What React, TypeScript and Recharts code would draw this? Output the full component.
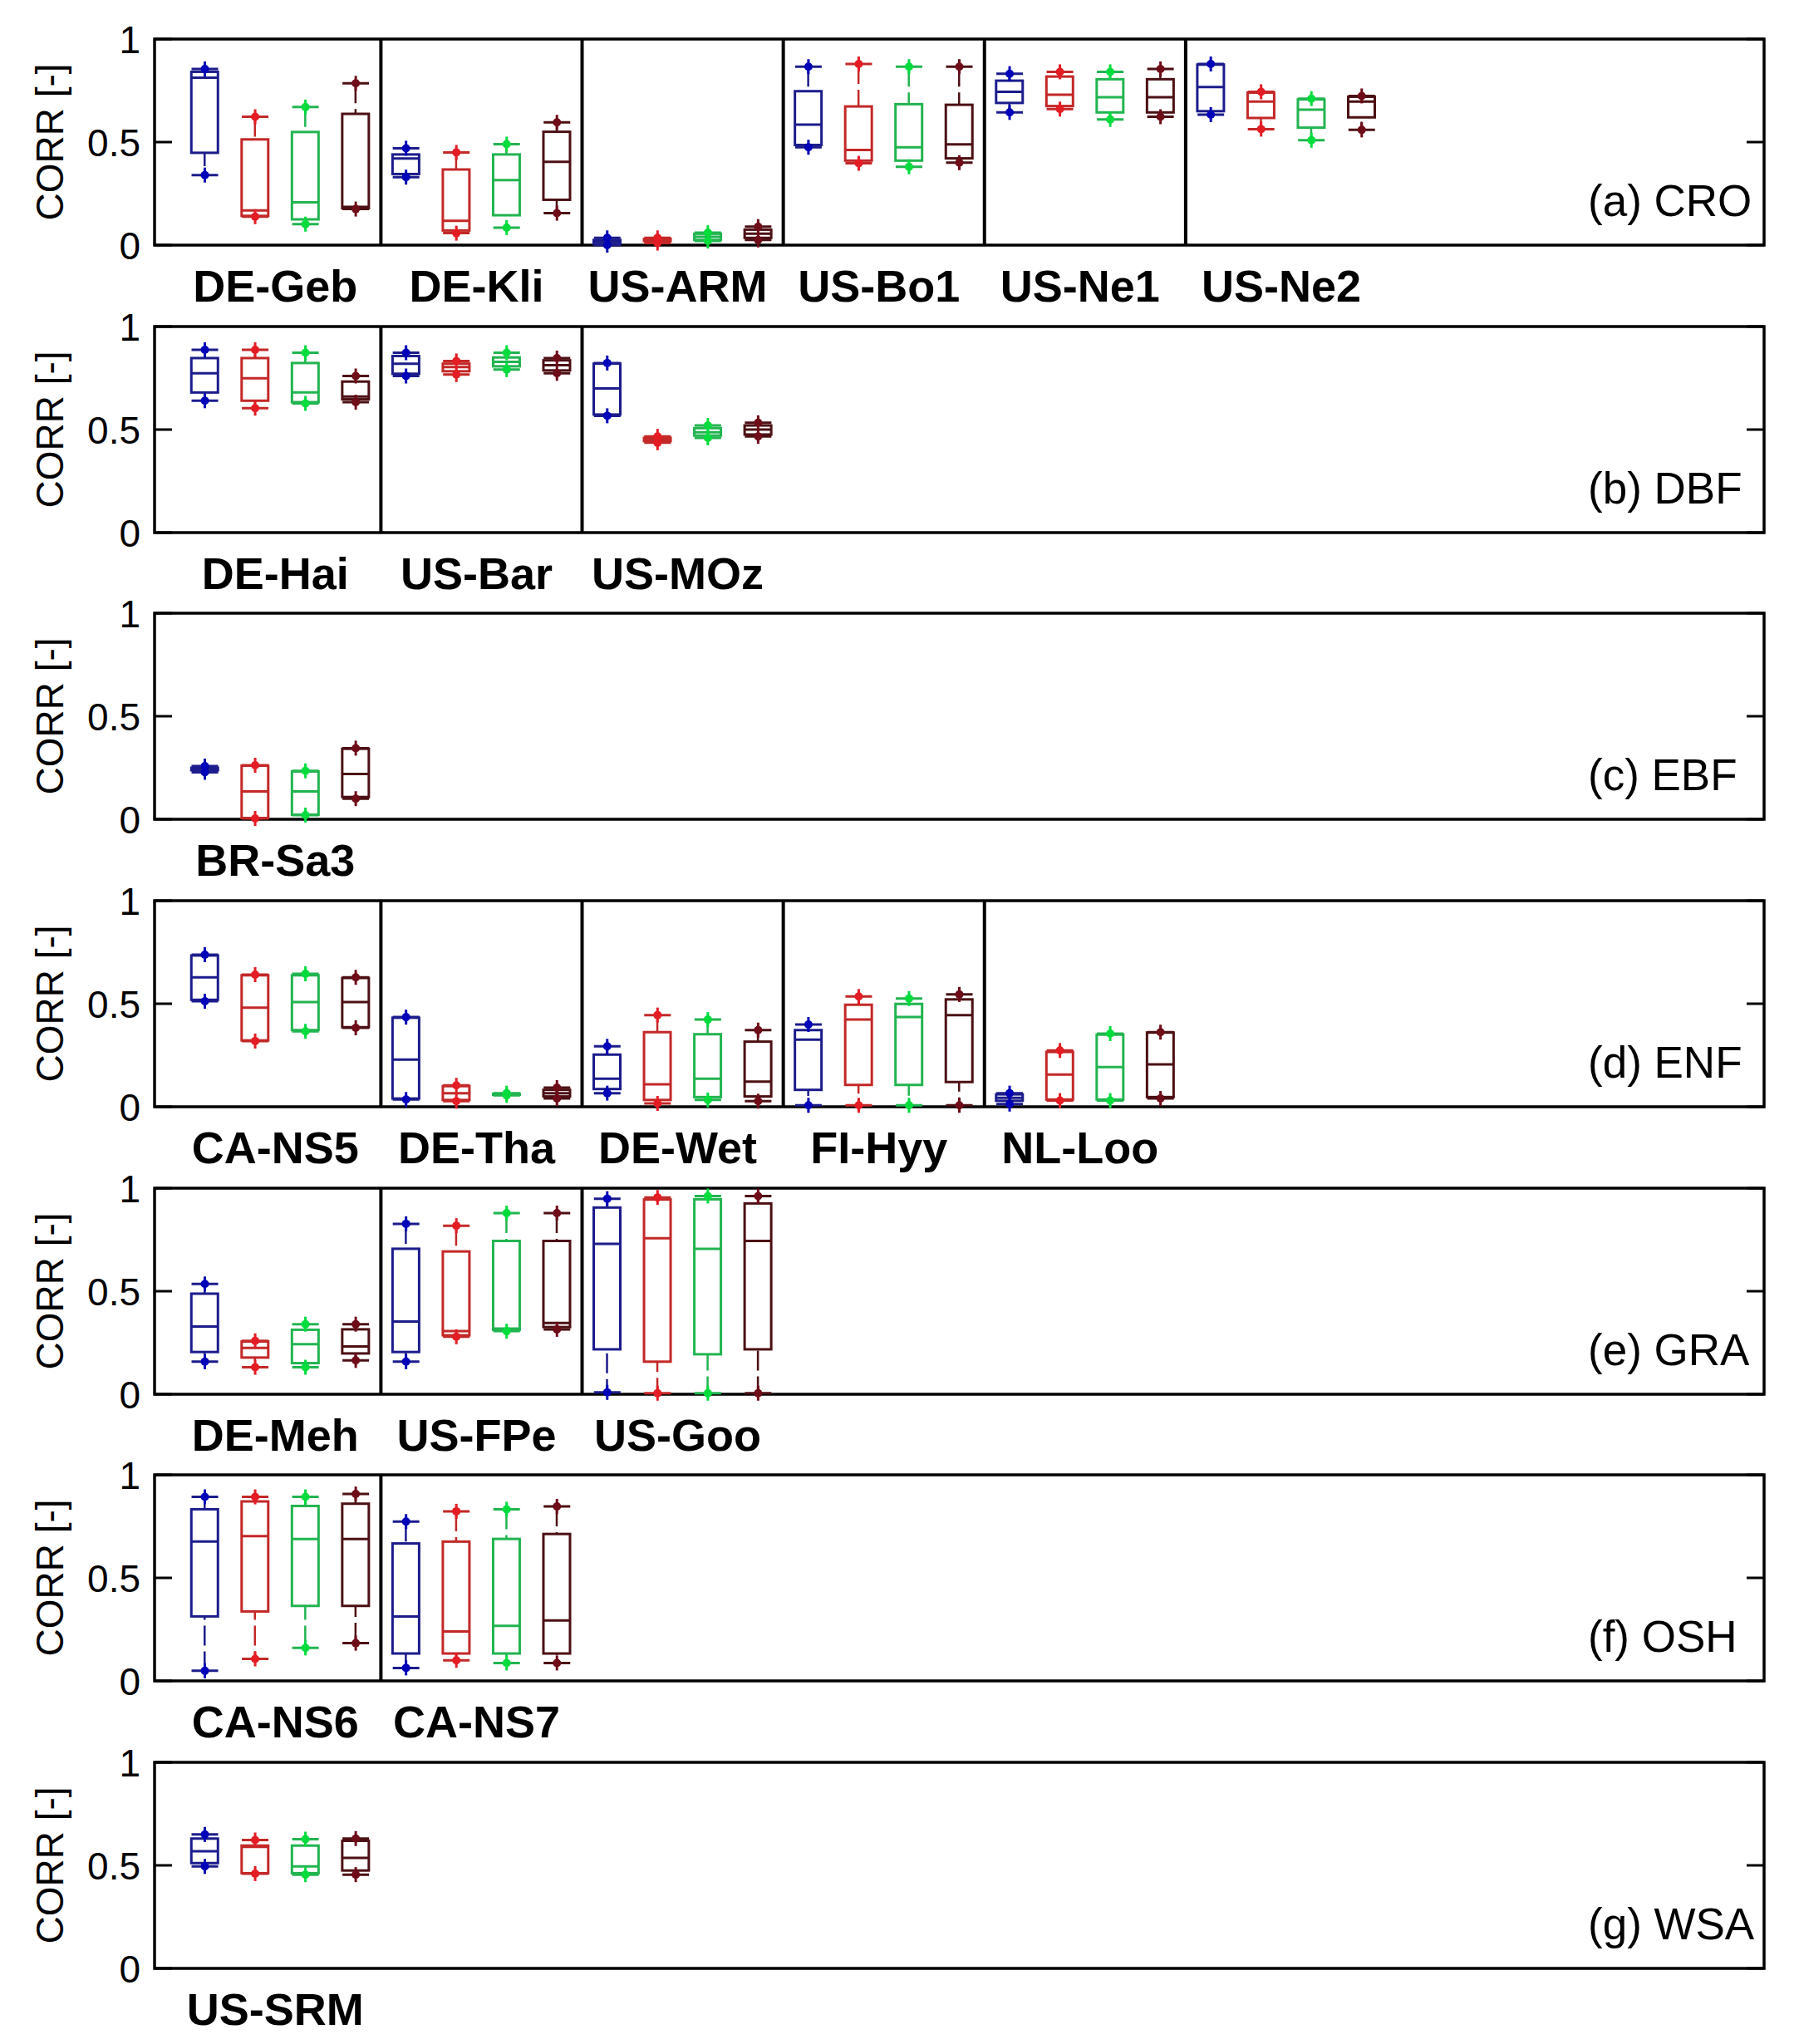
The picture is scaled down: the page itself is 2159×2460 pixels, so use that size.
import React from 'react';
import {
  Bar,
  ComposedChart,
  ReferenceArea,
  ReferenceLine,
  Scatter,
  XAxis,
  YAxis,
} from 'recharts';

// each box: [min, q1, median, q3, max], four series per site (blue, red, green, maroon)
const CRO_SITES = ['DE-Geb', 'DE-Kli', 'US-ARM', 'US-Bo1', 'US-Ne1', 'US-Ne2'];
const CRO_STATS = [
  [[0.34, 0.448, 0.812, 0.841, 0.855], [0.138, 0.142, 0.168, 0.513, 0.623], [0.102, 0.125, 0.208, 0.549, 0.67], [0.175, 0.179, 0.185, 0.637, 0.785]],
  [[0.33, 0.345, 0.42, 0.44, 0.47], [0.058, 0.071, 0.118, 0.367, 0.45], [0.085, 0.145, 0.316, 0.44, 0.49], [0.155, 0.22, 0.404, 0.55, 0.596]],
  [[0.0, 0.005, 0.015, 0.025, 0.035], [0.01, 0.02, 0.025, 0.03, 0.035], [0.02, 0.025, 0.04, 0.055, 0.06], [0.025, 0.035, 0.055, 0.075, 0.09]],
  [[0.475, 0.486, 0.585, 0.747, 0.866], [0.397, 0.41, 0.462, 0.673, 0.879], [0.38, 0.41, 0.475, 0.684, 0.866], [0.4, 0.421, 0.489, 0.681, 0.866]],
  [[0.644, 0.69, 0.744, 0.798, 0.832], [0.66, 0.675, 0.73, 0.818, 0.841], [0.61, 0.644, 0.718, 0.805, 0.841], [0.623, 0.644, 0.718, 0.805, 0.855]],
  [[0.633, 0.65, 0.767, 0.876, 0.879], [0.563, 0.617, 0.697, 0.74, 0.744], [0.509, 0.57, 0.657, 0.707, 0.711], [0.559, 0.62, 0.697, 0.72, 0.724]],
];

const DBF_SITES = ['DE-Hai', 'US-Bar', 'US-MOz'];
const DBF_STATS = [
  [[0.64, 0.68, 0.773, 0.847, 0.887], [0.604, 0.64, 0.749, 0.847, 0.887], [0.627, 0.633, 0.68, 0.823, 0.873], [0.633, 0.647, 0.66, 0.733, 0.76]],
  [[0.76, 0.771, 0.82, 0.857, 0.873], [0.767, 0.783, 0.803, 0.82, 0.833], [0.791, 0.807, 0.829, 0.85, 0.873], [0.773, 0.787, 0.813, 0.836, 0.847]],
  [[0.567, 0.573, 0.7, 0.82, 0.823], [0.436, 0.444, 0.451, 0.46, 0.467], [0.46, 0.471, 0.487, 0.507, 0.52], [0.467, 0.476, 0.5, 0.52, 0.533]],
];

const EBF_SITES = ['BR-Sa3'];
const EBF_STATS = [
  [[0.228, 0.238, 0.243, 0.25, 0.258], [0.004, 0.006, 0.135, 0.26, 0.262], [0.02, 0.022, 0.135, 0.232, 0.235], [0.1, 0.108, 0.22, 0.342, 0.345]],
];

const ENF_SITES = ['CA-NS5', 'DE-Tha', 'DE-Wet', 'FI-Hyy', 'NL-Loo'];
const ENF_STATS = [
  [[0.512, 0.519, 0.628, 0.734, 0.738], [0.319, 0.322, 0.481, 0.638, 0.641], [0.366, 0.372, 0.508, 0.638, 0.645], [0.383, 0.386, 0.508, 0.625, 0.628]],
  [[0.035, 0.04, 0.229, 0.432, 0.435], [0.027, 0.033, 0.066, 0.1, 0.104], [0.055, 0.058, 0.06, 0.063, 0.066], [0.04, 0.05, 0.066, 0.082, 0.093]],
  [[0.066, 0.086, 0.136, 0.253, 0.293], [0.016, 0.033, 0.109, 0.362, 0.445], [0.033, 0.047, 0.136, 0.352, 0.423], [0.027, 0.05, 0.122, 0.316, 0.372]],
  [[0.007, 0.082, 0.326, 0.372, 0.399], [0.007, 0.106, 0.423, 0.495, 0.535], [0.007, 0.106, 0.435, 0.499, 0.525], [0.007, 0.12, 0.445, 0.521, 0.545]],
  [[0.013, 0.029, 0.043, 0.06, 0.066], [0.03, 0.035, 0.156, 0.266, 0.273], [0.03, 0.035, 0.193, 0.35, 0.355], [0.04, 0.047, 0.206, 0.36, 0.362]],
];

const GRA_SITES = ['DE-Meh', 'US-FPe', 'US-Goo'];
const GRA_STATS = [
  [[0.158, 0.205, 0.329, 0.488, 0.535], [0.131, 0.178, 0.225, 0.256, 0.259], [0.131, 0.151, 0.243, 0.313, 0.34], [0.164, 0.198, 0.232, 0.315, 0.34]],
  [[0.158, 0.205, 0.353, 0.706, 0.827], [0.279, 0.286, 0.306, 0.693, 0.818], [0.306, 0.313, 0.319, 0.744, 0.879], [0.315, 0.326, 0.346, 0.744, 0.879]],
  [[0.009, 0.218, 0.73, 0.906, 0.949], [0.005, 0.158, 0.757, 0.945, 0.955], [0.005, 0.194, 0.706, 0.946, 0.962], [0.005, 0.218, 0.744, 0.926, 0.962]],
];

const OSH_SITES = ['CA-NS6', 'CA-NS7'];
const OSH_STATS = [
  [[0.049, 0.313, 0.676, 0.833, 0.893], [0.107, 0.337, 0.703, 0.871, 0.893], [0.16, 0.364, 0.689, 0.849, 0.893], [0.183, 0.364, 0.689, 0.86, 0.907]],
  [[0.063, 0.133, 0.313, 0.667, 0.773], [0.1, 0.133, 0.24, 0.676, 0.823], [0.087, 0.133, 0.267, 0.689, 0.833], [0.087, 0.133, 0.293, 0.713, 0.847]],
];

const WSA_SITES = ['US-SRM'];
const WSA_STATS = [
  [[0.495, 0.511, 0.569, 0.63, 0.65], [0.46, 0.462, 0.59, 0.596, 0.623], [0.455, 0.462, 0.495, 0.596, 0.627], [0.455, 0.475, 0.536, 0.619, 0.63]],
];

const PANELS = [
  { label: '(a) CRO', sites: CRO_SITES, stats: CRO_STATS },
  { label: '(b) DBF', sites: DBF_SITES, stats: DBF_STATS },
  { label: '(c) EBF', sites: EBF_SITES, stats: EBF_STATS },
  { label: '(d) ENF', sites: ENF_SITES, stats: ENF_STATS },
  { label: '(e) GRA', sites: GRA_SITES, stats: GRA_STATS },
  { label: '(f) OSH', sites: OSH_SITES, stats: OSH_STATS },
  { label: '(g) WSA', sites: WSA_SITES, stats: WSA_STATS },
];

const Y_TICKS = [0, 0.5, 1];
const X_MAX = 32;

const BOX_COLORS = ['#1c1c8c', '#c42828', '#22b450', '#4c1014'];
const MARK_COLORS = ['#0000b8', '#e41c24', '#00dc3c', '#6e0c18'];

const FONT = '"Liberation Sans", Arial, sans-serif';
const W = 2159;
const H = 430; // taller than the panel step so the site names below the axis are not clipped
const PLOT_TOP = 47;
const PLOT_H = 248;
const X_AXIS_H = 51;
const SITE_BASELINE = PLOT_TOP + PLOT_H + 68;
const PANEL_STEP = 345.67;
const PLOT_LEFT = 186;
const PLOT_RIGHT = 2123;
const BOX_W = 32;

function buildRows(stats: number[][][]) {
  const rows: any[] = [];
  stats.forEach((site, g) => {
    site.forEach(([min, q1, med, q3, max], k) => {
      rows.push({ pos: g * 4 + k + 1, series: k, min, q1, med, q3, max });
    });
  });
  return rows;
}

function WhiskerShape(props: any) {
  const { x, y, width, height, payload } = props;
  const cx = x + width / 2;
  return (
    <line
      x1={cx}
      x2={cx}
      y1={y}
      y2={y + height}
      stroke={BOX_COLORS[payload.series]}
      strokeWidth={2.5}
      strokeDasharray="24 7"
    />
  );
}

function BoxShape(props: any) {
  const { x, y, width, height, payload } = props;
  return (
    <rect
      x={x}
      y={y}
      width={width}
      height={Math.max(height, 1)}
      fill="#fff"
      stroke={BOX_COLORS[payload.series]}
      strokeWidth={3}
    />
  );
}

function MedianShape(props: any) {
  const { cx, cy, payload } = props;
  return (
    <line
      x1={cx - BOX_W / 2}
      x2={cx + BOX_W / 2}
      y1={cy}
      y2={cy}
      stroke={BOX_COLORS[payload.series]}
      strokeWidth={3}
    />
  );
}

function EndShape(props: any) {
  const { cx, cy, payload } = props;
  const c = MARK_COLORS[payload.series];
  return (
    <g>
      <line x1={cx - BOX_W / 2} x2={cx + BOX_W / 2} y1={cy} y2={cy} stroke={BOX_COLORS[payload.series]} strokeWidth={3} />
      <line x1={cx} x2={cx} y1={cy - 9} y2={cy + 9} stroke={c} strokeWidth={3} />
      <circle cx={cx} cy={cy} r={5} fill={c} />
    </g>
  );
}

function YTick(props: any) {
  const { y, payload } = props;
  return (
    <g>
      <text
        x={PLOT_LEFT - 17}
        y={y}
        dy="0.36em"
        textAnchor="end"
        fontSize={46}
        fontFamily={FONT}
        fill="#000"
      >
        {String(payload.value)}
      </text>
      <line x1={PLOT_LEFT} x2={PLOT_LEFT + 21} y1={y} y2={y} stroke="#000" strokeWidth={3} />
      <line x1={PLOT_RIGHT - 21} x2={PLOT_RIGHT} y1={y} y2={y} stroke="#000" strokeWidth={3} />
    </g>
  );
}

function makeXTick(sites: string[]) {
  return function XTick(props: any) {
    const { x, payload } = props;
    const name = sites[Math.round((payload.value - 2.5) / 4)];
    return (
      <text
        x={x - 6}
        y={SITE_BASELINE}
        textAnchor="middle"
        fontSize={54}
        fontWeight="bold"
        fontFamily={FONT}
        fill="#000"
      >
        {name}
      </text>
    );
  };
}

function CorrLabel(props: any) {
  const vb = props.viewBox || { y: PLOT_TOP, height: PLOT_H };
  const cy = vb.y + vb.height / 2;
  return (
    <text
      x={60}
      y={cy}
      transform={`rotate(-90, 60, ${cy})`}
      textAnchor="middle"
      dominantBaseline="central"
      fontSize={46}
      fontFamily={FONT}
      fill="#000"
    >
      CORR [-]
    </text>
  );
}

function Panel({ label, sites, stats, top }: any) {
  const rows = buildRows(stats);
  const groupTicks = sites.map((_: string, g: number) => g * 4 + 2.5);
  const separators = sites.slice(1).map((_: string, g: number) => (g + 1) * 4 + 0.5);
  return (
    <div style={{ position: 'absolute', left: 0, top, width: W, height: H }}>
      <ComposedChart
        width={W}
        height={H}
        data={rows}
        margin={{ top: PLOT_TOP, right: W - PLOT_RIGHT, bottom: H - PLOT_TOP - PLOT_H - X_AXIS_H, left: 0 }}
      >
        <XAxis
          xAxisId="sites"
          dataKey="pos"
          type="number"
          domain={[0, X_MAX]}
          ticks={groupTicks}
          interval={0}
          height={X_AXIS_H}
          axisLine={false}
          tickLine={false}
          tickSize={0}
          tickMargin={0}
          tick={makeXTick(sites)}
        />
        <XAxis xAxisId="box" dataKey="pos" type="number" domain={[0, X_MAX]} hide />
        <YAxis
          type="number"
          domain={[0, 1]}
          ticks={Y_TICKS}
          width={PLOT_LEFT}
          axisLine={false}
          tickLine={false}
          tick={<YTick />}
          label={<CorrLabel />}
        />
        <Bar
          xAxisId="sites"
          dataKey={(d: any) => [d.min, d.max]}
          barSize={BOX_W}
          shape={<WhiskerShape />}
          isAnimationActive={false}
        />
        <Bar
          xAxisId="box"
          dataKey={(d: any) => [d.q1, d.q3]}
          barSize={BOX_W}
          shape={<BoxShape />}
          isAnimationActive={false}
        />
        <Scatter xAxisId="sites" dataKey="med" shape={<MedianShape />} isAnimationActive={false} />
        <Scatter xAxisId="sites" dataKey="min" shape={<EndShape />} isAnimationActive={false} />
        <Scatter xAxisId="sites" dataKey="max" shape={<EndShape />} isAnimationActive={false} />
        {separators.map((s: number) => (
          <ReferenceLine key={s} xAxisId="sites" x={s} stroke="#000" strokeWidth={4} />
        ))}
        <ReferenceArea
          xAxisId="sites"
          x1={0}
          x2={X_MAX}
          y1={0}
          y2={1}
          fill="none"
          stroke="#000"
          strokeWidth={3.5}
        />
      </ComposedChart>
      <div
        style={{
          position: 'absolute',
          left: 1911,
          top: 215,
          fontFamily: FONT,
          fontSize: 53,
          lineHeight: 1,
          color: '#000',
          whiteSpace: 'nowrap',
        }}
      >
        {label}
      </div>
    </div>
  );
}

export default function App() {
  return (
    <div
      style={{
        position: 'absolute',
        left: 0,
        top: 0,
        width: W,
        height: 2460,
        background: '#fff',
      }}
    >
      {PANELS.map((p, i) => (
        <Panel key={p.label} {...p} top={Math.round(i * PANEL_STEP)} />
      ))}
    </div>
  );
}
